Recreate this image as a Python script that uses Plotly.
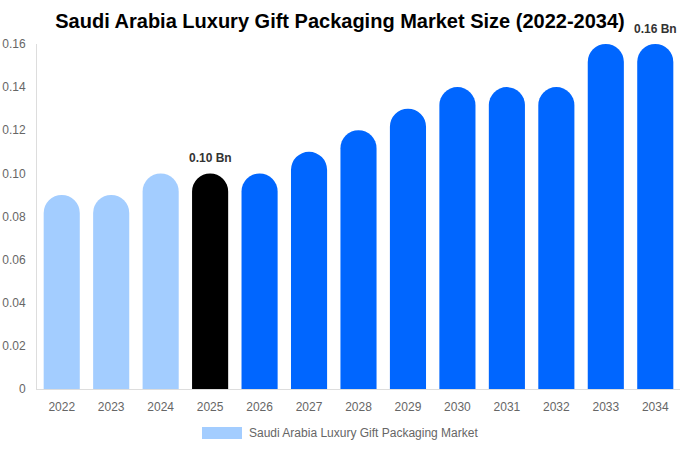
import plotly.graph_objects as go

years = ["2022", "2023", "2024", "2025", "2026", "2027", "2028", "2029", "2030", "2031", "2032", "2033", "2034"]
values = [0.09, 0.09, 0.10, 0.10, 0.10, 0.11, 0.12, 0.13, 0.14, 0.14, 0.14, 0.16, 0.16]
labels = ["", "", "", "0.10 Bn", "", "", "", "", "", "", "", "", "0.16 Bn"]
series_name = "Saudi Arabia Luxury Gift Packaging Market"
tick_vals = [0, 0.02, 0.04, 0.06, 0.08, 0.10, 0.12, 0.14, 0.16]
tick_text = ["0", "0.02", "0.04", "0.06", "0.08", "0.10", "0.12", "0.14", "0.16"]

LIGHT = "#a3cdff"
colors = []
for y in years:
    if int(y) < 2025:
        colors.append(LIGHT)
    elif y == "2025":
        colors.append("#000000")
    else:
        colors.append("#0066ff")

fig = go.Figure()
fig.add_trace(go.Bar(
    x=years, y=values, name=series_name,
    marker=dict(color=colors, cornerradius="50%", line=dict(width=0)),
    cliponaxis=False, showlegend=False,
))

# value labels above selected bars (category index positions on the x axis)
for i, (v, lab) in enumerate(zip(values, labels)):
    if lab:
        fig.add_annotation(x=i, y=v, text="<b>" + lab + "</b>", showarrow=False,
                           xref="x", yref="y",
                           xanchor="center", yanchor="bottom", yshift=6,
                           font=dict(family="Liberation Sans, Arial", size=12, color="#333333"))

# legend drawn as swatch + text
fig.add_shape(type="rect", xref="paper", yref="paper",
              x0=0.2566, x1=0.3188, y0=-0.145, y1=-0.110,
              fillcolor=LIGHT, line=dict(width=0))
fig.add_annotation(text=series_name, xref="paper", yref="paper",
                   x=0.3266, y=-0.1275, xanchor="left", yanchor="middle",
                   showarrow=False, font=dict(size=12, color="#666666"))

fig.update_layout(
    width=680, height=450,
    margin=dict(l=37, r=0, t=44, b=61, autoexpand=False),
    paper_bgcolor="white", plot_bgcolor="white",
    font=dict(family="Liberation Sans, Arial", size=12, color="#666666"),
    title=dict(text="<b>Saudi Arabia Luxury Gift Packaging Market Size (2022-2034)</b>",
               x=0.5, xanchor="center", xref="container", y=0.953, yanchor="middle",
               font=dict(size=20, color="#000000", family="Liberation Sans, Arial")),
    bargap=0.27,
    showlegend=False,
    xaxis=dict(type="category", range=[-0.5, len(years) - 0.5], showgrid=False, showline=True,
               linecolor="#dddddd", linewidth=1, ticklabelstandoff=7,
               ticks="", automargin=False, tickfont=dict(size=12, color="#666666")),
    yaxis=dict(range=[0, 0.16], showgrid=False, zeroline=False, showline=True,
               linecolor="#dddddd", linewidth=1, tickvals=tick_vals, ticktext=tick_text,
               ticklabelstandoff=8,
               ticks="", automargin=False, tickfont=dict(size=12, color="#666666")),
)

fig.write_html("out.html", config={"displayModeBar": False},
               post_script="document.body.style.margin='0';")
